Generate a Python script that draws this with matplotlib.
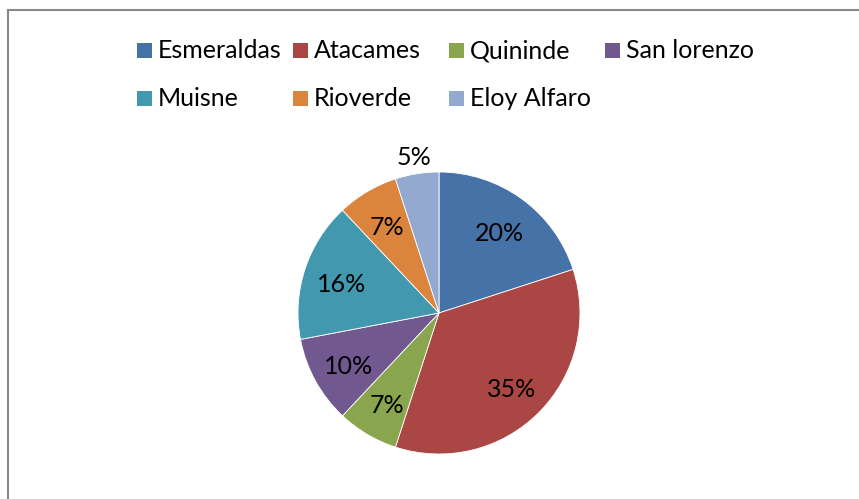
import numpy as np
import matplotlib
matplotlib.use("Agg")
import matplotlib.pyplot as plt
from matplotlib.patches import Rectangle
from matplotlib.lines import Line2D

categories = ["Esmeraldas", "Atacames", "Quininde", "San lorenzo", "Muisne", "Rioverde", "Eloy Alfaro"]
values = [20, 35, 7, 10, 16, 7, 5]
colors = ["#4572A7", "#AA4643", "#89A54E", "#71588F", "#4198AF", "#DB843D", "#93A9CF"]

W, H = 859, 499
FONT = "Lato"
FS = 18

fig = plt.figure(figsize=(W / 100, H / 100), dpi=100)
fig.patch.set_facecolor("white")

# frame (top and left edges visible)
fig.add_artist(Line2D([8 / W, 8 / W], [0, 1 - 10 / H], transform=fig.transFigure, color="#898989", lw=1.5))
fig.add_artist(Line2D([8 / W, 1], [1 - 10 / H, 1 - 10 / H], transform=fig.transFigure, color="#898989", lw=1.5))

# pie
cx, cy, r = 439, 313, 141
ax = fig.add_axes([(cx - r) / W, (H - cy - r) / H, 2 * r / W, 2 * r / H])
wedges, texts, autotexts = ax.pie(values, colors=colors, startangle=90, counterclock=False,
                                   autopct=lambda p: f"{p:.0f}%", pctdistance=0.73,
                                   wedgeprops=dict(linewidth=0.6, edgecolor="white"),
                                   textprops=dict(fontsize=FS, family=FONT, color="black"))
ax.set_xlim(-1, 1)
ax.set_ylim(-1, 1)
ax.set_aspect("equal")
ax.axis("off")

# nudge inner labels slightly down (Excel-like placement)
for t in autotexts:
    x, y = t.get_position()
    t.set_position((x, y - 0.025))

# last label (smallest slice) placed outside
w = wedges[-1]
mid = np.deg2rad((w.theta1 + w.theta2) / 2)
autotexts[-1].set_position((1.13 * np.cos(mid), 1.13 * np.sin(mid) - 0.01))

# legend (Excel-like equal column widths)
order_rows = [[0, 1, 2, 3], [4, 5, 6]]
x0, colw = 137, 156
rows_base = [57.5, 106]
box = 15
for ri, row in enumerate(order_rows):
    for ci, idx in enumerate(row):
        bx = x0 + ci * colw
        by = rows_base[ri]
        fig.add_artist(Rectangle((bx / W, 1 - by / H), box / W, box / H,
                                 transform=fig.transFigure, facecolor=colors[idx], edgecolor="none"))
        fig.text((bx + box + 6) / W, 1 - (by + 0.5) / H, categories[idx], fontsize=FS, family=FONT,
                 va="baseline", ha="left", color="black")

fig.savefig("out.png", dpi=100)
